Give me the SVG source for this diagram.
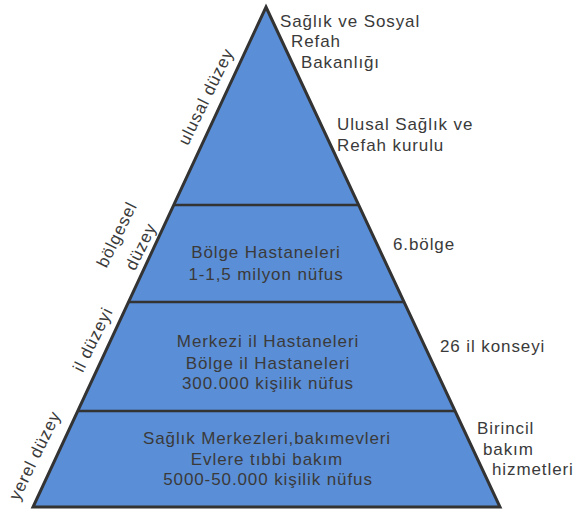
<svg xmlns="http://www.w3.org/2000/svg" width="578" height="512" viewBox="0 0 578 512">
<style>
text{font-family:"Liberation Sans",Arial,sans-serif;font-size:17px;fill:#3a3a3a;letter-spacing:0.9px}
.c{text-anchor:middle}
.m{text-anchor:middle}
.edge{stroke:#333;stroke-width:3;fill:none}
.div{stroke:#333;stroke-width:2.5}
</style>
<rect width="578" height="512" fill="#fff"/>
<g id="pyramid">
<polygon points="266,7 500,507 33,507" fill="#5a8ed6"/>
</g>
<g id="connectors">
<line class="div" x1="174" y1="205" x2="358" y2="205"/>
<line class="div" x1="129" y1="302" x2="403" y2="302"/>
<line class="div" x1="78" y1="411" x2="455" y2="411"/>
<polygon class="edge" points="266,7 500,507 33,507" stroke-linejoin="miter"/>
</g>
<g id="level-ulusal">
<text transform="translate(211,99) rotate(-64)" class="m">ulusal düzey</text>
<text x="280" y="27">Sağlık ve Sosyal</text>
<text x="291" y="47">Refah</text>
<text x="301" y="68">Bakanlığı</text>
<text x="337" y="130">Ulusal Sağlık ve</text>
<text x="337" y="151">Refah kurulu</text>
</g>
<g id="level-bolgesel">
<text transform="translate(122,237) rotate(-64)" class="m">bölgesel</text>
<text transform="translate(146,249) rotate(-64)" class="m">düzey</text>
<text x="266" y="258" class="c">Bölge Hastaneleri</text>
<text x="266" y="280" class="c">1-1,5 milyon nüfus</text>
<text x="393" y="250">6.bölge</text>
</g>
<g id="level-il">
<text transform="translate(98,342) rotate(-64)" class="m">il düzeyi</text>
<text x="268" y="347" class="c">Merkezi il Hastaneleri</text>
<text x="268" y="369" class="c">Bölge il Hastaneleri</text>
<text x="268" y="389" class="c">300.000 kişilik nüfus</text>
<text x="440" y="352">26 il konseyi</text>
</g>
<g id="level-yerel">
<text transform="translate(40,458) rotate(-64)" class="m">yerel düzey</text>
<text x="267" y="444" class="c">Sağlık Merkezleri,bakımevleri</text>
<text x="267" y="465" class="c">Evlere tıbbi bakım</text>
<text x="268" y="485" class="c">5000-50.000 kişilik nüfus</text>
<text x="477" y="434">Birincil</text>
<text x="483" y="455">bakım</text>
<text x="492" y="475">hizmetleri</text>
</g>
</svg>
